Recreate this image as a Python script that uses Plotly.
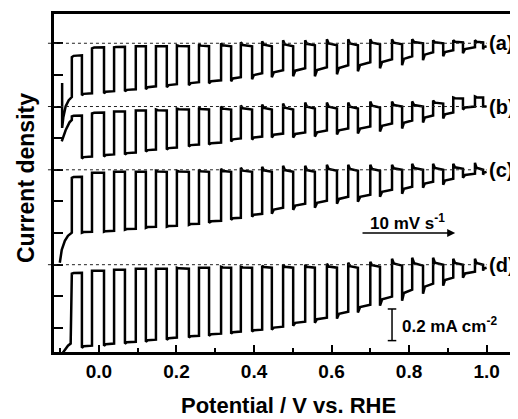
import plotly.graph_objects as go

# ---------------- data (potential in V vs. RHE, current in uA cm^-2 relative to each curve's dark baseline) -------------
chop_off_V = [-0.070, -0.018, 0.039, 0.095, 0.147, 0.201, 0.258, 0.315, 0.366, 0.421,
              0.475, 0.532, 0.588, 0.643, 0.700, 0.756, 0.808, 0.862, 0.914, 0.970]
chop_on_V = [-0.044, 0.013, 0.067, 0.121, 0.175, 0.232, 0.284, 0.341, 0.395, 0.446,
             0.501, 0.557, 0.614, 0.668, 0.725, 0.782, 0.836, 0.888, 0.939, 0.991]
end_V = 1.0

labels = ["(a)", "(b)", "(c)", "(d)"]
offsets_mA = [1.8, 1.4, 1.0, 0.4]

# initial transient (light on) before the first light-off
init_a_V = [-0.095, -0.095, -0.092, -0.086, -0.078, -0.070]
init_a_j = [-251, -535, -470, -400, -360, -340]
init_b_V = [-0.096, -0.086, -0.076, -0.070]
init_b_j = [-220, -150, -100, -85]
init_c_V = [-0.101, -0.096, -0.088, -0.080, -0.070]
init_c_j = [-588, -506, -449, -417, -398]
init_d_V = [-0.098, -0.093, -0.080, -0.073]
init_d_j = [-640, -556, -512, -499]

# dark segments: value right after light-off, value just before light-on
dark_a_start = [-88, -32, -25, -19, -19, -13, -6, 0, 6, 13, 19, 19, 25, 25, 25, 25, 25, 19, 19, 19]
dark_a_end = [-76, -25, -22, -19, -19, -19, -19, -19, -19, -19, -19, -13, -13, -13, -6, -6, 0, 0, 6, 6]
light_a_start = [-329, -316, -303, -291, -278, -265, -253, -240, -228, -215,
                 -209, -209, -196, -177, -158, -139, -107, -82, -63, -38]
light_a_end = [-316, -303, -291, -272, -259, -246, -234, -215, -190, -171,
               -158, -152, -139, -120, -101, -82, -57, -44, -25, -19]

dark_b_start = [-63, -44, -32, -25, -19, -13, -6, 0, 6, 13, 19, 25, 25, 25, 32, 32, 32, 38, 57, 63]
dark_b_end = [-57, -38, -32, -25, -25, -19, -19, -19, -19, -19, -19, -13, -13, -13, -6, 0, 0, 19, 51, 57]
light_b_start = [-329, -316, -303, -284, -272, -253, -240, -221, -209, -196,
                 -196, -190, -177, -171, -158, -139, -101, -76, -19, 0]
light_b_end = [-316, -303, -291, -272, -259, -240, -228, -202, -190, -171,
               -164, -152, -139, -126, -107, -88, -57, -38, 0, 0]

dark_c_start = [-51, -19, -13, -13, -6, -6, 0, 6, 13, 19, 25, 25, 32, 32, 32, 32, 38, 38, 38, 44]
dark_c_end = [-44, -19, -13, -13, -13, -13, -13, -13, -13, -13, -13, -13, -6, -6, -6, 0, 0, 0, 6, 0]
light_c_start = [-398, -392, -379, -367, -360, -348, -335, -316, -297, -278,
                 -253, -240, -215, -202, -171, -152, -114, -95, -51, -32]
light_c_end = [-392, -386, -373, -360, -354, -341, -322, -303, -278, -240,
               -215, -196, -171, -158, -126, -107, -76, -57, -25, -13]

dark_d_start = [-57, -38, -32, -25, -25, -19, -19, -13, -13, -6, 0, 0, 6, 13, 19, 38, 44, 44, 38, 38]
dark_d_end = [-51, -38, -32, -25, -25, -25, -19, -19, -19, -19, -19, -19, -19, -19, -13, -6, -6, 0, 0, 0]
light_d_start = [-525, -512, -499, -487, -474, -461, -449, -436, -423, -411,
                 -386, -367, -341, -303, -259, -228, -183, -133, -82, -38]
light_d_end = [-512, -499, -487, -474, -461, -449, -436, -423, -411, -392,
               -360, -335, -297, -253, -202, -158, -120, -82, -44, -19]

curves = [
    (init_a_V, init_a_j, dark_a_start, dark_a_end, light_a_start, light_a_end),
    (init_b_V, init_b_j, dark_b_start, dark_b_end, light_b_start, light_b_end),
    (init_c_V, init_c_j, dark_c_start, dark_c_end, light_c_start, light_c_end),
    (init_d_V, init_d_j, dark_d_start, dark_d_end, light_d_start, light_d_end),
]

x_tick_vals = [0.0, 0.2, 0.4, 0.6, 0.8, 1.0]
x_tick_text = ["0.0", "0.2", "0.4", "0.6", "0.8", "1.0"]
x_minor_vals = [-0.1, 0.1, 0.3, 0.5, 0.7, 0.9]
y_tick_vals = [0.0, 0.2, 0.4, 0.6, 0.8, 1.0, 1.2, 1.4, 1.6, 1.8]

X_RANGE = [-0.116, 1.081]
Y_RANGE = [-0.152, 1.985]

# page body has an 8 px margin: figure is sized so that it fills the window from there
FIG_W, FIG_H = 510, 411
M_L, M_T, M_B = 46, 6, 67
PLOT_W, PLOT_H = FIG_W - M_L, FIG_H - M_T - M_B


def segment(V0, V1, s, e):
    """relaxing segment: sharp start value then settling toward the end value"""
    w = V1 - V0
    return [V0, V0 + 0.18 * w, V1], [s, e + 0.3 * (s - e), e]


def build(init_V, init_j, d0, d1, l0, l1, off):
    xs, ys = list(init_V), list(init_j)
    n = len(chop_on_V)
    for k in range(n):
        sx, sy = segment(chop_off_V[k], chop_on_V[k], d0[k], d1[k])
        xs += sx
        ys += sy
        nxt = chop_off_V[k + 1] if k + 1 < n else end_V
        sx, sy = segment(chop_on_V[k], nxt, l0[k], l1[k])
        xs += sx
        ys += sy
    return xs, [off + j / 1000.0 for j in ys]


def xpaper(v):
    return (v - X_RANGE[0]) / (X_RANGE[1] - X_RANGE[0])


fig = go.Figure()
for (iv, ij, d0, d1, l0, l1), off in zip(curves, offsets_mA):
    xs, ys = build(iv, ij, d0, d1, l0, l1, off)
    fig.add_trace(go.Scatter(x=xs, y=ys, mode="lines",
                             line=dict(color="black", width=2.5), showlegend=False))

FONT = "Liberation Sans, Arial, sans-serif"
shapes = []
annotations = []
for lab, off in zip(labels, offsets_mA):
    shapes.append(dict(type="line", xref="paper", yref="y", x0=-0.013, x1=xpaper(1.0),
                       y0=off, y1=off, line=dict(color="#222", width=1, dash="3px,3px")))
    annotations.append(dict(x=1.001, y=off, xref="x", yref="y", text=lab, showarrow=False,
                            xanchor="left", yanchor="middle",
                            font=dict(family=FONT, size=20, color="black", weight="bold")))

# scale bar 0.2 mA cm-2
bar_x, bar_y0, bar_y1, cap = 0.756, -0.08, 0.12, 0.011
shapes.append(dict(type="line", xref="x", yref="y", x0=bar_x, x1=bar_x, y0=bar_y0, y1=bar_y1,
                   line=dict(color="black", width=1.5)))
for yy in (bar_y0, bar_y1):
    shapes.append(dict(type="line", xref="x", yref="y", x0=bar_x - cap, x1=bar_x + cap, y0=yy, y1=yy,
                       line=dict(color="black", width=1.5)))
annotations.append(dict(x=0.777, y=0.02, xref="x", yref="y", text="0.2 mA cm<sup>-2</sup>",
                        showarrow=False, xanchor="left", yanchor="middle",
                        font=dict(family=FONT, size=17, color="black", weight="bold")))

# scan rate arrow
annotations.append(dict(x=0.919, y=0.60, ax=0.676, ay=0.60, xref="x", yref="y", axref="x", ayref="y",
                        text="", showarrow=True, arrowhead=2, arrowsize=1, arrowwidth=1.6,
                        arrowcolor="black"))
annotations.append(dict(x=0.797, y=0.672, xref="x", yref="y", text="10 mV s<sup>-1</sup>",
                        showarrow=False, xanchor="center", yanchor="middle",
                        font=dict(family=FONT, size=17, color="black", weight="bold")))

# axis titles
annotations.append(dict(x=234 / PLOT_W, y=-53 / PLOT_H, xref="paper", yref="paper",
                        text="Potential / V vs. RHE", showarrow=False, xanchor="center", yanchor="middle",
                        font=dict(family=FONT, size=22, color="black", weight="bold")))
annotations.append(dict(x=-28 / PLOT_W, y=174 / PLOT_H, xref="paper", yref="paper",
                        text="Current density", showarrow=False, textangle=-90,
                        xanchor="center", yanchor="middle",
                        font=dict(family=FONT, size=23, color="black", weight="bold")))

fig.update_layout(
    width=FIG_W, height=FIG_H,
    margin=dict(l=M_L, r=0, t=M_T, b=M_B),
    paper_bgcolor="white", plot_bgcolor="white",
    shapes=shapes, annotations=annotations,
    xaxis=dict(range=X_RANGE, showgrid=False, zeroline=False, showline=True, linecolor="black",
               linewidth=2.5, mirror=True, ticks="inside", ticklen=7, tickwidth=2, tickcolor="black",
               tickvals=x_tick_vals, ticktext=x_tick_text,
               tickfont=dict(family=FONT, size=19, color="black", weight="bold"),
               minor=dict(tickvals=x_minor_vals, ticks="inside", ticklen=4, tickwidth=2, tickcolor="black")),
    yaxis=dict(range=Y_RANGE, showgrid=False, zeroline=False, showline=True, linecolor="black",
               linewidth=2.5, ticks="inside", ticklen=9, tickwidth=2, tickcolor="black",
               tickvals=y_tick_vals, showticklabels=False),
)

fig.write_html("out.html")
